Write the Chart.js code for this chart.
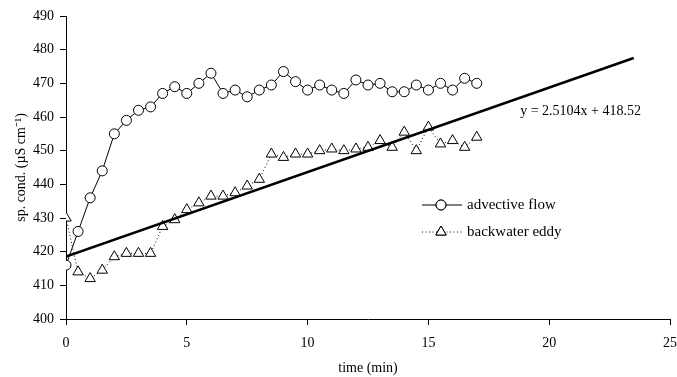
<!DOCTYPE html>
<html>
<head>
<meta charset="utf-8">
<script src="https://cdn.jsdelivr.net/npm/chart.js@4"></script>
<style>
	html, body {margin: 0; padding: 0; background: #fff;}
	#wrap {width: 677px; height: 377px;}
</style>
</head>
<body>
<div id="wrap"><canvas id="chart"></canvas></div>
<script>
// time in minutes, one reading every half minute
const times = [0, 0.5, 1, 1.5, 2, 2.5, 3, 3.5, 4, 4.5, 5, 5.5, 6, 6.5, 7, 7.5, 8, 8.5,
	9, 9.5, 10, 10.5, 11, 11.5, 12, 12.5, 13, 13.5, 14, 14.5, 15, 15.5, 16, 16.5, 17];

const advective_flow = [416, 426, 436, 444, 455, 459, 462, 463, 467, 469, 467, 470, 473, 467, 468, 466, 468, 469.5,
	473.5, 470.5, 468, 469.5, 468, 467, 471, 469.5, 470, 467.5, 467.5, 469.5, 468, 470, 468, 471.5, 470];

const backwater_eddy = [430, 414, 412, 414.5, 418.5, 419.5, 419.5, 419.5, 427.5, 429.5, 432.5, 434.5, 436.5, 436.5, 437.5, 439.5, 441.5, 449,
	448, 449, 449, 450, 450.5, 450, 450.5, 451, 453, 451, 455.5, 450, 457, 452, 453, 451, 454];

// fitted line end points (y = 2.5104x + 418.52)
const trend_x = [0, 23.5];
const trend_y = [418.52, 477.51];
const trend_label = 'y = 2.5104x + 418.52';

const y_ticks = [400, 410, 420, 430, 440, 450, 460, 470, 480, 490];
const x_ticks = [0, 5, 10, 15, 20, 25];

const serif = "'Liberation Serif', 'Times New Roman', serif";

const toPoints = (xs, ys) => xs.map ((x, i) => ({x: x, y: ys[i]}));

// Equation text and the little legend box on the right
const extras = {
	id: 'extras',
	afterDatasetsDraw (chart) {
		const c = chart.ctx;
		const xs = chart.scales.x;
		const ys = chart.scales.y;
		c.save ();
		c.fillStyle = '#000';
		c.font = '14px ' + serif;
		c.textBaseline = 'middle';
		c.textAlign = 'left';
		c.fillText (trend_label, xs.getPixelForValue (18.8), ys.getPixelForValue (461.8));

		// legend
		const rows = [
			{text: 'advective flow', dash: [], style: 'circle'},
			{text: 'backwater eddy', dash: [1, 2.5], style: 'triangle'}
		];
		const lx = 422, ly = 205, gap = 27;
		c.font = '15px ' + serif;
		rows.forEach ((row, i) => {
			const y = ly + i * gap;
			c.strokeStyle = '#000';
			c.lineWidth = 1;
			c.setLineDash (row.dash);
			c.beginPath ();
			c.moveTo (lx, y);
			c.lineTo (lx + 40, y);
			c.stroke ();
			c.setLineDash ([]);
			Chart.helpers.drawPoint (c, {pointStyle: row.style, radius: row.style == 'circle' ? 5 : 6, borderWidth: 1}, lx + 19, y);
			c.fillStyle = '#fff';
			c.fill ();
			c.stroke ();
			c.fillStyle = '#000';
			c.fillText (row.text, lx + 45, y);
		});
		c.restore ();
	}
};

const ctx = document.getElementById ('chart');

new Chart (ctx, {
	type: 'line',
	data: {
		datasets: [
			{
				label: 'trend',
				data: toPoints (trend_x, trend_y),
				borderColor: '#000',
				borderWidth: 2.5,
				pointRadius: 0,
				order: 0
			},
			{
				label: 'advective flow',
				data: toPoints (times, advective_flow),
				borderColor: '#000',
				borderWidth: 1,
				pointStyle: 'circle',
				pointRadius: 5,
				pointBorderWidth: 1,
				pointBackgroundColor: '#fff',
				pointBorderColor: '#000',
				order: 1
			},
			{
				label: 'backwater eddy',
				data: toPoints (times, backwater_eddy),
				borderColor: '#000',
				borderWidth: 1,
				borderDash: [1, 2.5],
				pointStyle: 'triangle',
				pointRadius: 6,
				pointBorderWidth: 1,
				pointBackgroundColor: '#fff',
				pointBorderColor: '#000',
				order: 2
			}
		]
	},
	options: {
		responsive: true,
		maintainAspectRatio: false,
		animation: false,
		layout: {padding: {top: 16, left: 0, right: 7, bottom: 0}},
		plugins: {
			legend: {display: false},
			tooltip: {enabled: false}
		},
		scales: {
			x: {
				type: 'linear',
				min: 0,
				max: 25,
				afterBuildTicks: scale => { scale.ticks = x_ticks.map (v => ({value: v})); },
				afterFit: scale => { scale.height = 58; scale.paddingRight = 0; },
				grid: {drawOnChartArea: false, color: '#000', tickLength: 6},
				border: {color: '#000', width: 1},
				ticks: {color: '#000', font: {family: serif, size: 14}, padding: 10, maxRotation: 0},
				title: {display: true, text: 'time (min)', color: '#000', font: {family: serif, size: 14}, padding: 0}
			},
			y: {
				min: 400,
				max: 490,
				afterBuildTicks: scale => { scale.ticks = y_ticks.map (v => ({value: v})); },
				afterFit: scale => { scale.width = 66; },
				grid: {drawOnChartArea: false, color: '#000', tickLength: 6},
				border: {color: '#000', width: 1},
				ticks: {color: '#000', font: {family: serif, size: 14}, padding: 6},
				title: {display: true, text: 'sp. cond. (µS cm⁻¹)', color: '#000', font: {family: serif, size: 14}, padding: {top: 13, bottom: 0}}
			}
		}
	},
	plugins: [extras]
});
</script>
</body>
</html>
